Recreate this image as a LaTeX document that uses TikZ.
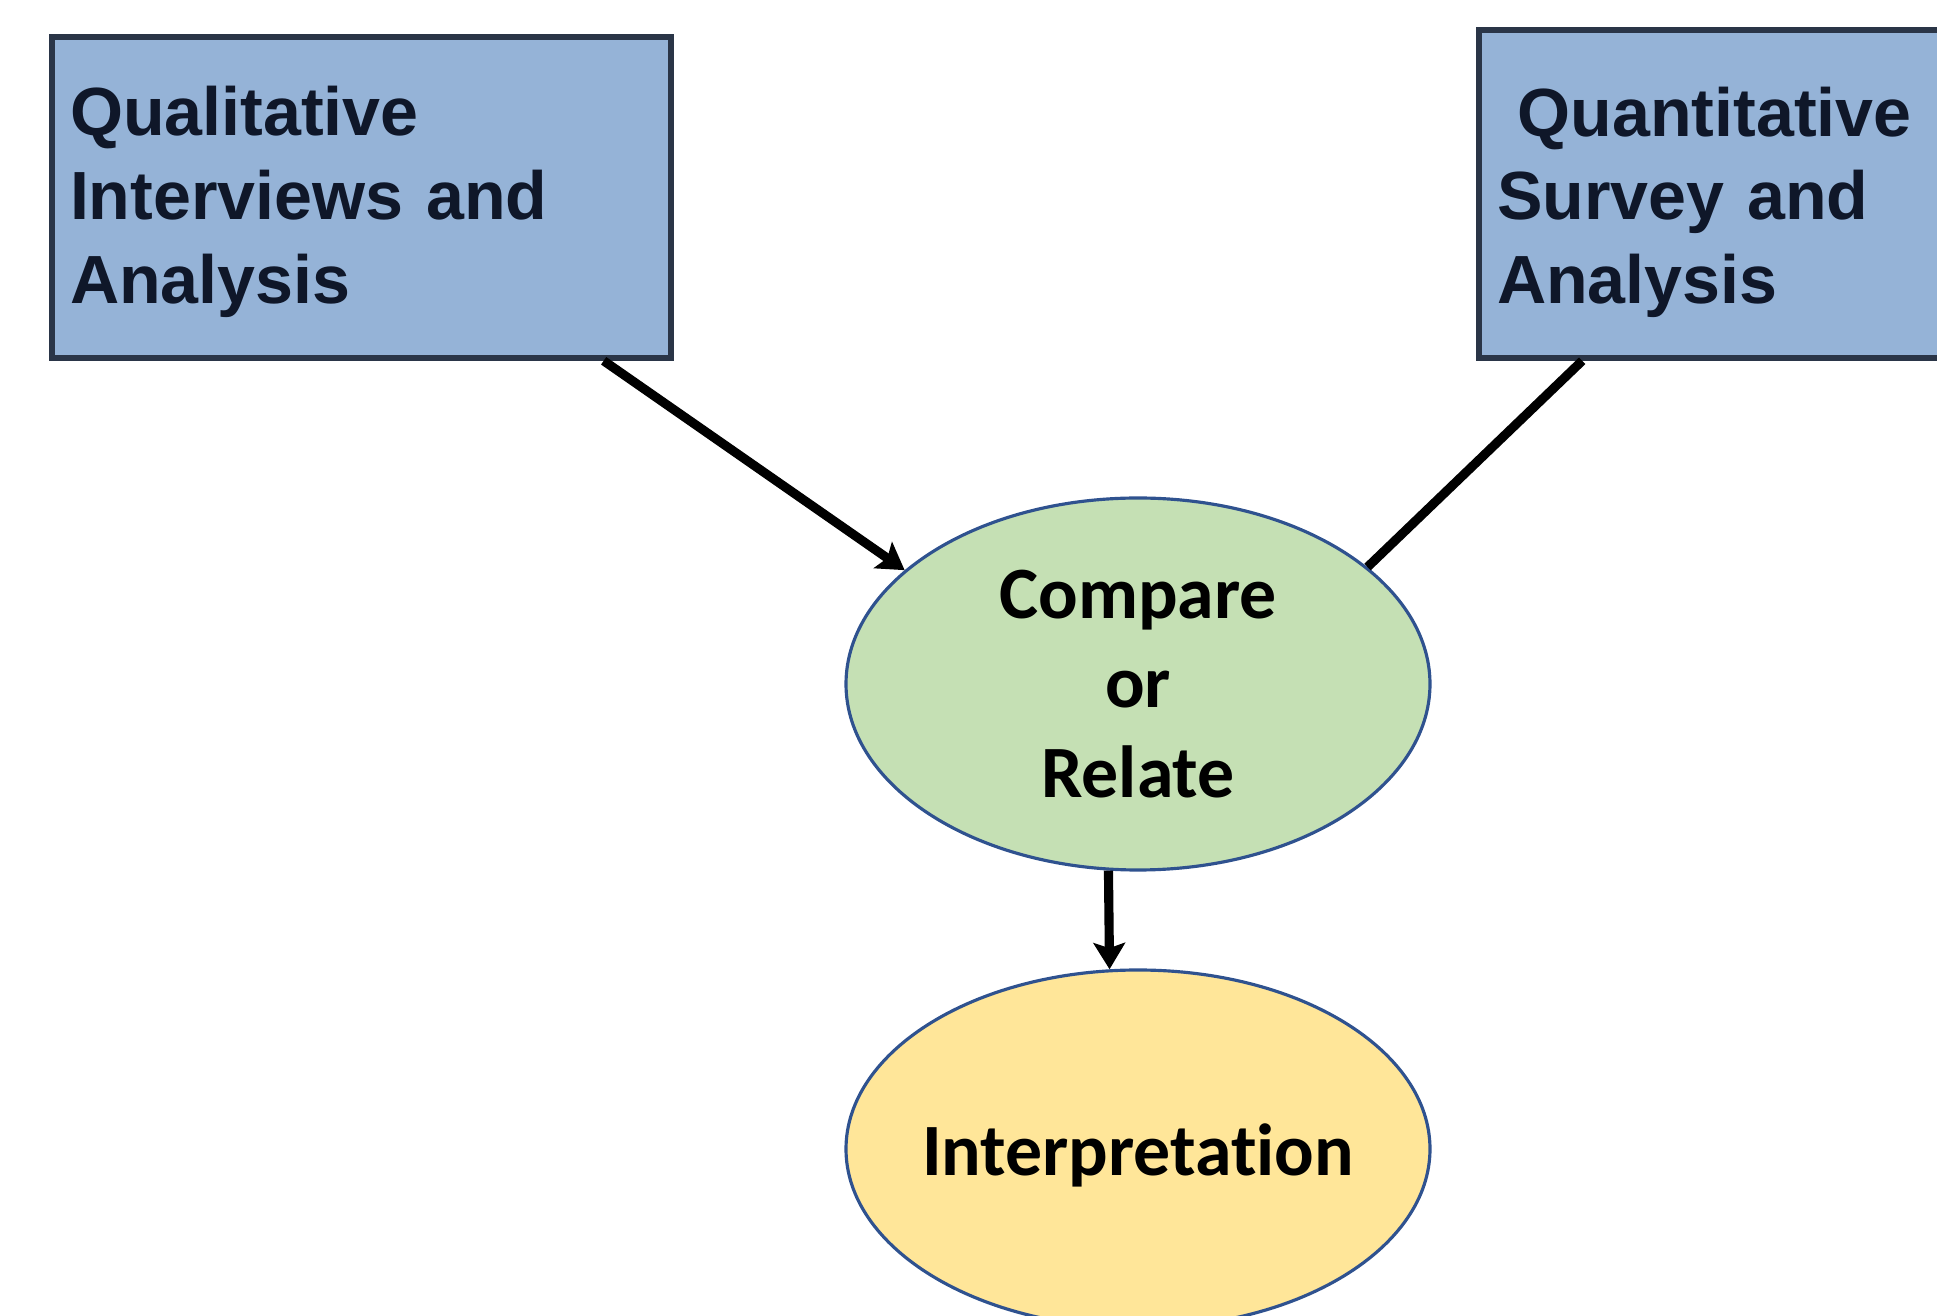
\documentclass[tikz,border=0pt]{standalone}
\usepackage{fontspec}
\newfontfamily\boxfont{Liberation Sans}
\newfontfamily\ovalfont{Carlito}[Ligatures=NoCommon]
\usetikzlibrary{shapes.geometric,arrows.meta}
\definecolor{boxblue}{HTML}{95B3D7}
\definecolor{boxline}{HTML}{2A3547}
\definecolor{boxtext}{HTML}{0F1729}
\definecolor{ovalgreen}{HTML}{C5E0B4}
\definecolor{ovalyellow}{HTML}{FFE699}
\definecolor{ovalline}{HTML}{2F528F}
\tikzset{
  method/.style={shape=rectangle, draw=boxline, fill=boxblue, line width=1.6pt, inner xsep=1.8mm, inner ysep=0, align=left, text=boxtext, text depth=51.9pt, font=\boxfont\bfseries\fontsize{19.4}{23.9}\selectfont},
  stage/.style={shape=ellipse, draw=ovalline, line width=0.9pt, inner sep=0, minimum width=58.4mm},
  stagetext/.style={font=\ovalfont\bfseries\fontsize{21}{25.4}\selectfont, align=center, text=black},
  flow/.style={line width=2.6pt, -{Stealth[length=7.5pt,width=9pt,inset=1.5pt]}},
  link/.style={line width=2.6pt}
}
\begin{document}
\begin{tikzpicture}[x=0.1mm, y=-0.1mm]
        \useasboundingbox (0,0) rectangle (1937,1316);
        % Boxes:
        \node[method, text height=16.9pt, minimum width=61.9mm, minimum height=32.1mm, text width=58.3mm] (qual) at (361.5, 197.5){Qualitative\\Interviews and\\Analysis};
        \node[method, text height=18.9pt, minimum width=54mm, minimum height=32.8mm, text width=50.4mm] (quant) at (1749, 194){\hspace*{0.3em}Quantitative\\Survey and\\Analysis};
        % Ovals:
        \node[stage, fill=ovalgreen, minimum height=37.2mm, label={[stagetext, name=cmptext]center:{Compare\\or\\Relate}}] (cmp) at (1138, 684){};
        \node[stage, fill=ovalyellow, minimum height=35.8mm, label={[stagetext, name=interptext, yshift=-1.7pt]center:Interpretation}] (interp) at (1138, 1149){};
        % Wires:
        \draw[flow] (qual.-34.3) -- (cmp.154);
        \draw[link] (quant.-135.7) -- (cmp.27);
        \draw[flow] (cmp.-99) -- (interp.99);
\end{tikzpicture}
\end{document}
